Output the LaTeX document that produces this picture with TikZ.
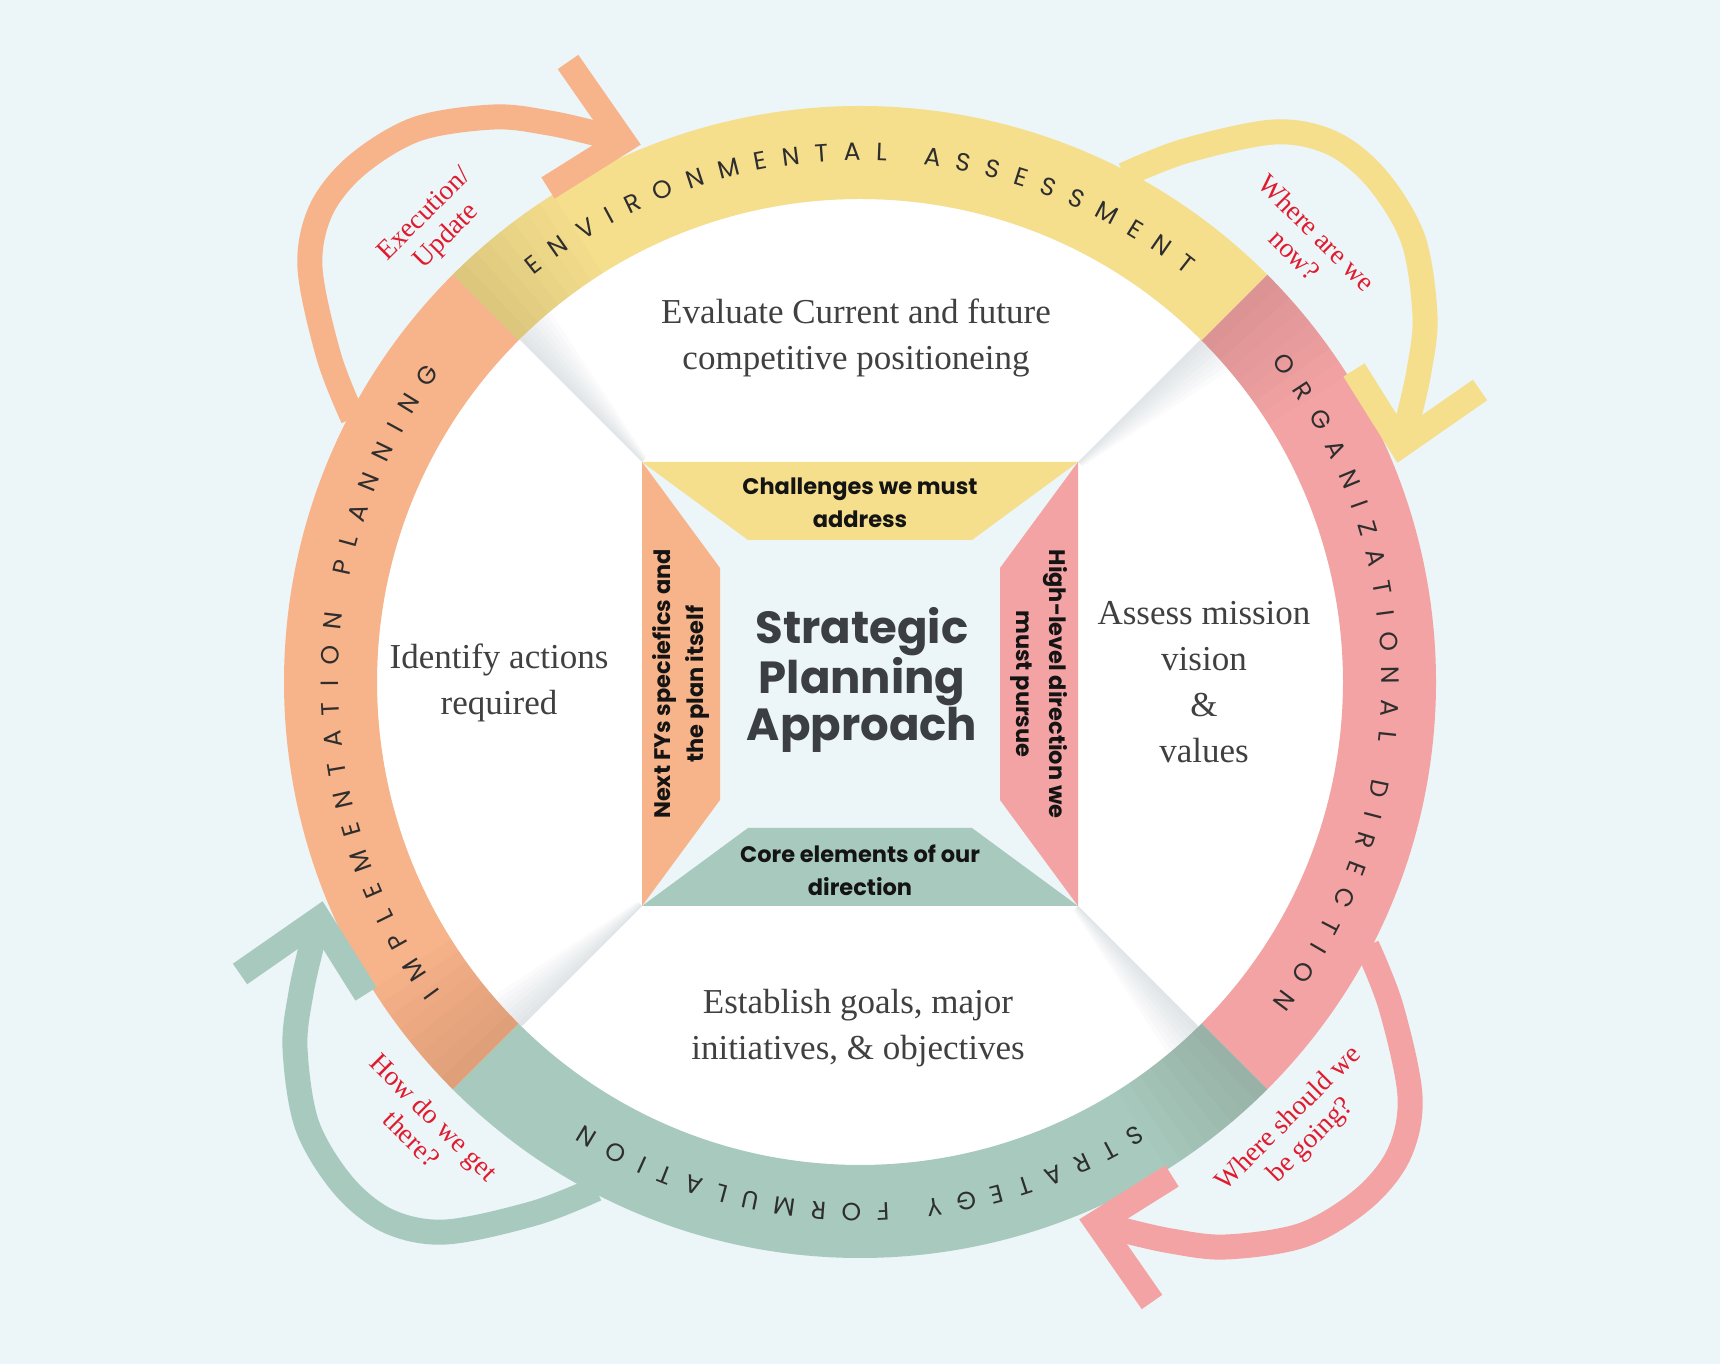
\documentclass[tikz,border=0pt]{standalone}
\usepackage{fontspec}
\setmainfont{Liberation Serif}
\newfontfamily\popfont{Poppins}
\usetikzlibrary{calc}
\definecolor{bgc}{HTML}{ECF5F7}
\definecolor{cyel}{HTML}{F5DF8D}
\definecolor{cpink}{HTML}{F4A3A4}
\definecolor{cgreen}{HTML}{A8CABE}
\definecolor{corange}{HTML}{F7B389}
\definecolor{cred}{HTML}{E01B2F}
\definecolor{ctxt}{HTML}{404040}
\definecolor{ctitle}{HTML}{3B3E43}
\definecolor{cring}{HTML}{2E2E2E}
\definecolor{cshade}{HTML}{8E9AA0}
\def\ringr{521.5}
\tikzset{
  ringlet/.style={font=\popfont\fontsize{25}{25}\selectfont, text=cring, inner sep=0pt, anchor=base},
  body/.style={font=\fontsize{35}{46}\selectfont, text=ctxt, align=center, inner sep=0pt},
  redq/.style={font=\fontsize{27.5}{31}\selectfont, text=cred, align=center, inner sep=0pt},
  traplab/.style={font=\popfont\bfseries\fontsize{22.5}{33}\selectfont, text=black!92, align=center, inner sep=0pt},
  titlelab/.style={font=\popfont\bfseries\fontsize{45}{47}\selectfont, text=ctitle, align=center, inner sep=0pt},
  loopline/.style={line width=25pt, line cap=butt, line join=round},
  headline/.style={line width=25pt, line cap=butt, line join=miter},
}
% #1 centre angle, #2 name, #3 tracking, #4 extra word gap, #5 word 1, #6 word 2
\newcommand{\arcwords}[6]{%
  \begingroup
  \popfont\fontsize{25}{25}\selectfont
  \gdef\awlen{0}%
  \foreach \ch in {#5,#6} {%
    \pgfmathwidth{"\ch"}%
    \pgfmathsetmacro\awtmp{\awlen+\pgfmathresult+#3}%
    \xdef\awlen{\awtmp}}%
  \pgfmathsetmacro\awtot{\awlen-#3+#4}%
  \xdef\awtot{\awtot}%
  \gdef\awcur{0}%
  \foreach \ch [count=\i] in {#5} {%
    \pgfmathwidth{"\ch"}\let\aww\pgfmathresult
    \pgfmathsetmacro\ang{#1+(\awtot/2-\awcur-\aww/2)/\ringr*57.29578}%
    \node[ringlet, rotate=\ang-90] (#2a\i) at (\ang:\ringr) {\ch};
    \pgfmathsetmacro\awtmp{\awcur+\aww+#3}\xdef\awcur{\awtmp}}%
  \pgfmathsetmacro\awtmp{\awcur+#4}\xdef\awcur{\awtmp}%
  \foreach \ch [count=\i] in {#6} {%
    \pgfmathwidth{"\ch"}\let\aww\pgfmathresult
    \pgfmathsetmacro\ang{#1+(\awtot/2-\awcur-\aww/2)/\ringr*57.29578}%
    \node[ringlet, rotate=\ang-90] (#2b\i) at (\ang:\ringr) {\ch};
    \pgfmathsetmacro\awtmp{\awcur+\aww+#3}\xdef\awcur{\awtmp}}%
  \endgroup}
\begin{document}
\begin{tikzpicture}[x=1pt,y=1pt]
\fill[bgc] (0,0) rectangle (1720,1364);
\useasboundingbox (0,0) rectangle (1720,1364);
\begin{scope}[shift={(860,682)}]
  % inner disk
  \fill[white] (0,0) circle (483);
  % fold shadows along the diagonals
  \begin{scope}
    \clip (0,0) circle (483);
    \foreach \a/\cx/\cy in {135/-218/220, 45/218/220, -45/218/-224, -135/-218/-224} {
      \begin{scope}[shift={(\cx,\cy)}, rotate=\a]
        \foreach \k in {1,...,8}
          \fill[cshade, opacity=0.033] (0,0) -- (200,0) -- (200,-6*\k) -- (0,-0.8*\k) -- cycle;
      \end{scope}
    }
  \end{scope}
  % ring
  \fill[cyel] (135:576) arc[start angle=135,end angle=45,radius=576] -- (45:483) arc[start angle=45,end angle=135,radius=483] -- cycle;
  \fill[cpink] (45:576) arc[start angle=45,end angle=-45,radius=576] -- (-45:483) arc[start angle=-45,end angle=45,radius=483] -- cycle;
  \fill[cgreen] (-45:576) arc[start angle=-45,end angle=-135,radius=576] -- (-135:483) arc[start angle=-135,end angle=-45,radius=483] -- cycle;
  \fill[corange] (225:576) arc[start angle=225,end angle=135,radius=576] -- (135:483) arc[start angle=135,end angle=225,radius=483] -- cycle;
  \foreach \a in {135,45,-45,-135} {
    \foreach \k in {1,...,8} {
      \pgfmathsetmacro\b{\a-1.6*\k}
      \fill[black, opacity=0.011] (\a:576) arc[start angle=\a, end angle=\b, radius=576] -- (\b:483) arc[start angle=\b, end angle=\a, radius=483] -- cycle;
    }
  }
  % central square
  \fill[bgc] (-218,-224) rectangle (218,220);
  \fill[cyel] (-218,220) -- (218,220) -- (112,142) -- (-112,142) -- cycle;
  \fill[cgreen] (-218,-224) -- (218,-224) -- (112,-146) -- (-112,-146) -- cycle;
  \fill[corange] (-218,220) -- (-218,-224) -- (-140,-118) -- (-140,114) -- cycle;
  \fill[cpink] (218,220) -- (218,-224) -- (140,-118) -- (140,114) -- cycle;
  \node[traplab] (chal) at (0,179) {Challenges we must\\address};
  \node[traplab] (core) at (0,-188) {Core elements of our\\direction};
  \node[traplab, rotate=90] (nextfy) at (-179,-2) {Next FYs speciefics and\\the plan itself};
  \node[traplab, rotate=-90] (highlvl) at (179,-2) {High-level direction we\\must pursue};
  \node[titlelab] (title) at (2,2) {Strategic\\Planning\\Approach};
  % quadrant texts
  \node[body] (eval) at (-4,344) {Evaluate Current and future\\competitive positioneing};
  \node[body] (ident) at (-361,-1) {Identify actions\\required};
  \node[body] (assess) at (344,0) {Assess mission\\vision\\\&\\values};
  \node[body] (estab) at (-2,-346) {Establish goals, major\\initiatives, \& objectives};
  % ring lettering
  \arcwords{90}{env}{15}{22}{E,N,V,I,R,O,N,M,E,N,T,A,L}{A,S,S,E,S,S,M,E,N,T}
  \arcwords{0}{org}{15}{22}{O,R,G,A,N,I,Z,A,T,I,O,N,A,L}{D,I,R,E,C,T,I,O,N}
  \arcwords{-90}{str}{15}{22}{S,T,R,A,T,E,G,Y}{F,O,R,M,U,L,A,T,I,O,N}
  \arcwords{180}{imp}{15}{22}{I,M,P,L,E,M,E,N,T,A,T,I,O,N}{P,L,A,N,N,I,N,G}
  % looping arrows
  \foreach \rot/\col/\nm in {0/corange/o, -90/cyel/y, -180/cpink/p, -270/cgreen/g} {
    \begin{scope}[rotate=\rot]
      \coordinate (\nm-start) at (-507,264);
      \coordinate (\nm-tip) at (-237,541);
      \draw[loopline, draw=\col] plot[smooth, tension=0.55] coordinates {(-507,264) (-531,325) (-550,414) (-539,472) (-503,517) (-443,553) (-366,565) (-311,559) (-262,548) (-240,542)};
      \draw[headline, draw=\col] (-292,620) -- (\nm-tip) -- (-312,494);
    \end{scope}
  }
  % questions
  \node[redq, rotate=45] (exec) at (-424,456) {Execution/\\Update};
  \node[redq, rotate=-45] (wnow) at (446,438) {Where are we\\now?};
  \node[redq, rotate=-45] (howget) at (-437,-446) {How do we get\\there?};
  \node[redq, rotate=45] (wgoing) at (440,-448) {Where should we\\be going?};
\end{scope}
\end{tikzpicture}
\end{document}
